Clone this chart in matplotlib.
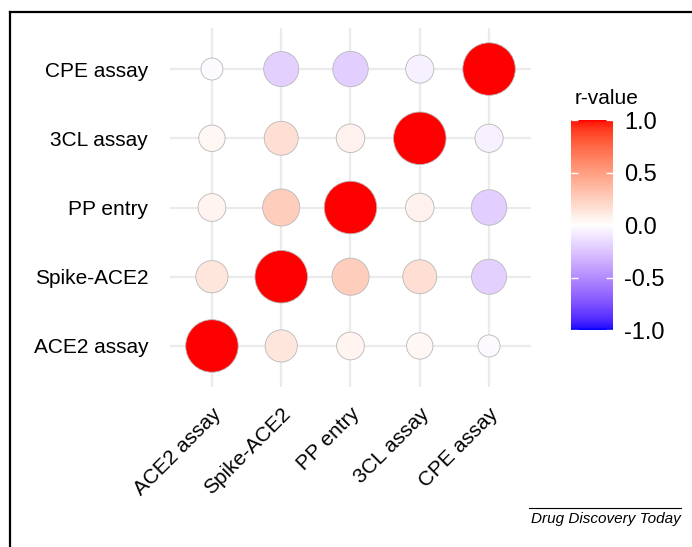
import numpy as np
import matplotlib.pyplot as plt
from matplotlib.colors import ListedColormap
from matplotlib.lines import Line2D

plt.rcParams['font.family'] = ['Liberation Sans', 'DejaVu Sans']

labels = ['ACE2 assay', 'Spike-ACE2', 'PP entry', '3CL assay', 'CPE assay']
# correlation matrix, rows = y order (bottom to top), cols = x order
r = np.array([[1.00, 0.13, 0.055, 0.04, -0.02],
              [0.13, 1.00, 0.26, 0.17, -0.20],
              [0.055, 0.26, 1.00, 0.065, -0.21],
              [0.04, 0.17, 0.065, 1.00, -0.06],
              [-0.02, -0.20, -0.21, -0.06, 1.00]])
cbar_ticks = [-1.0, -0.5, 0.0, 0.5, 1.0]
cbar_labels = ['-1.0', '-0.5', '0.0', '0.5', '1.0']


# blue-white-red gradient interpolated in Lab space (like ggplot gradient2)
WHITE = np.array([0.95047, 1.0, 1.08883])
M = np.array([[0.4124, 0.3576, 0.1805],
              [0.2126, 0.7152, 0.0722],
              [0.0193, 0.1192, 0.9505]])


def to_lab(rgb):
    c = np.asarray(rgb, float)
    lin = np.where(c <= 0.04045, c / 12.92, ((c + 0.055) / 1.055) ** 2.4)
    t = (M @ lin) / WHITE
    f = np.where(t > 0.008856, np.cbrt(t), 7.787 * t + 16 / 116)
    return np.array([116 * f[1] - 16, 500 * (f[0] - f[1]), 200 * (f[1] - f[2])])


def from_lab(lab):
    L, a, b = lab
    fy = (L + 16) / 116
    f = np.array([fy + a / 500, fy, fy - b / 200])
    t = np.where(f > 0.2069, f ** 3, (f - 16 / 116) / 7.787) * WHITE
    lin = np.clip(np.linalg.solve(M, t), 0, 1)
    c = np.where(lin <= 0.0031308, 12.92 * lin, 1.055 * lin ** (1 / 2.4) - 0.055)
    return np.clip(c, 0, 1)


low, mid, high = to_lab([0, 0, 1]), to_lab([1, 1, 1]), to_lab([1, 0, 0])
cols = []
for v in np.linspace(-1, 1, 256):
    end = low if v < 0 else high
    cols.append(from_lab(mid + abs(v) * (end - mid)))
cmap = ListedColormap(cols)

fig = plt.figure(figsize=(6.92, 5.47), dpi=100)
ax = fig.add_axes([0.2462, 0.2916, 0.5206, 0.6581])

xx, yy = np.meshgrid(np.arange(5), np.arange(5))
a = np.abs(r)
scaled = (a - a.min()) / (a.max() - a.min())
diam_px = 22 + 30.5 * np.sqrt(scaled)
sizes = (diam_px * 0.72) ** 2

sc = ax.scatter(xx.ravel(), yy.ravel(), s=sizes.ravel(), c=r.ravel(), cmap=cmap,
                vmin=-1, vmax=1, edgecolors='#b8b8b8', linewidths=0.6, zorder=3)

ax.set_xlim(-0.6, 4.6)
ax.set_ylim(-0.6, 4.6)
ax.set_xticks(range(5))
ax.set_yticks(range(5))
ax.set_xticklabels(labels, rotation=45, ha='right', va='top', rotation_mode='anchor')
ax.set_yticklabels(labels)
ax.tick_params(length=0, labelsize=15)
ax.tick_params(axis='y', pad=16)
ax.tick_params(axis='x', pad=12)
ax.grid(True, color='#ebebeb', linewidth=1.6, zorder=0)
ax.set_axisbelow(True)
for sp in ax.spines.values():
    sp.set_visible(False)

# colourbar
cax = fig.add_axes([0.8251, 0.3967, 0.0607, 0.3839])
cb = fig.colorbar(sc, cax=cax, ticks=cbar_ticks)
cb.outline.set_visible(False)
cb.ax.set_yticklabels(cbar_labels)
cax.tick_params(left=True, right=True, direction='in', length=5, width=1,
                color='white', labelsize=17, pad=8)
fig.text(575 / 692, 1 - 98 / 547, 'r-value', fontsize=15, ha='left', va='center')

# frame and credit
fig.add_artist(Line2D([10 / 692, 1], [1 - 12 / 547] * 2, color='black', lw=1.6))
fig.add_artist(Line2D([10 / 692] * 2, [0, 1 - 12 / 547], color='black', lw=1.6))
fig.add_artist(Line2D([529 / 692, 681 / 692], [1 - 508 / 547] * 2, color='black', lw=0.8))
fig.text(681 / 692, 1 - 519 / 547, 'Drug Discovery Today', fontsize=11, style='italic',
         ha='right', va='center')

fig.savefig('out.png', dpi=100)
